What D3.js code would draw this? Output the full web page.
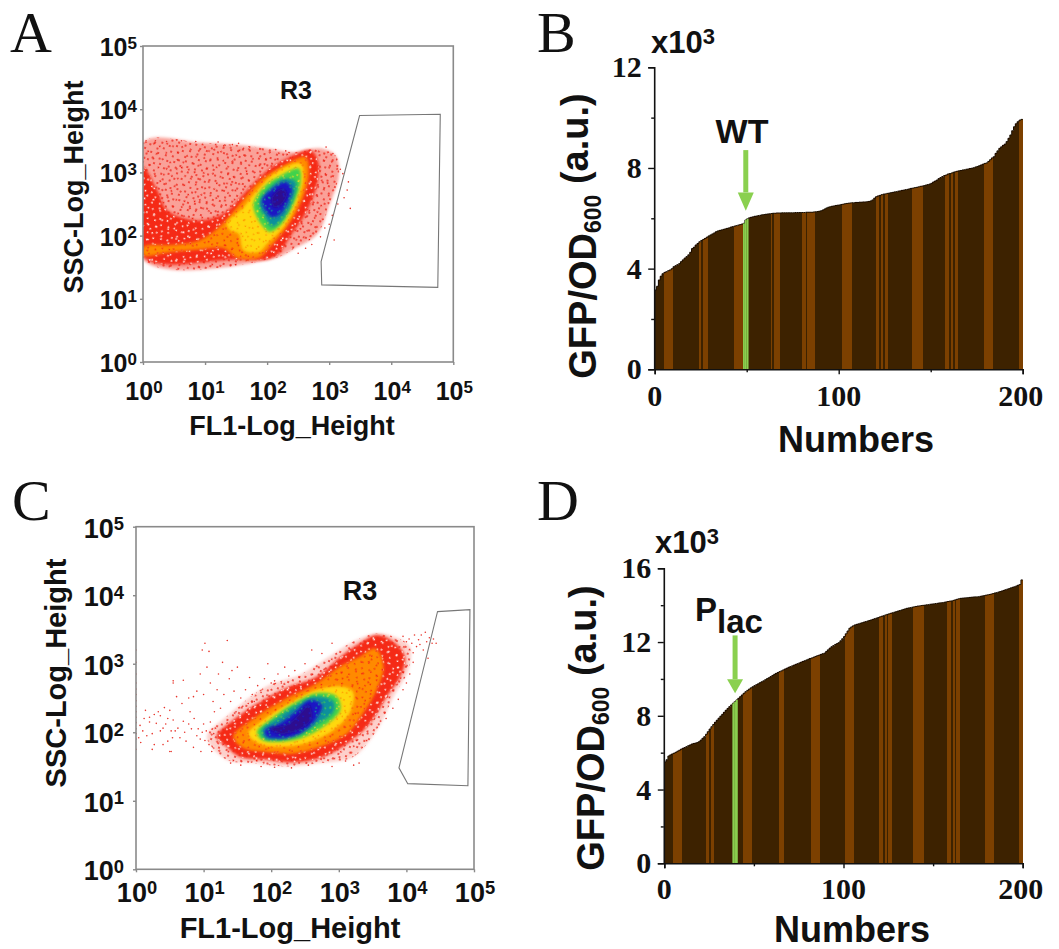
<!DOCTYPE html>
<html>
<head>
<meta charset="utf-8">
<title>Flow cytometry and GFP screening</title>
<script src="https://cdn.jsdelivr.net/npm/d3@7"></script>
<style>
  html, body { margin: 0; background: #fff; }
  svg { display: block; }
  text { fill: #111; }
  .sans { font-family: "Liberation Sans", Arial, sans-serif; font-weight: bold; }
  .serif { font-family: "Liberation Serif", "Times New Roman", serif; }
</style>
</head>
<body>
<svg id="fig" width="1059" height="949"></svg>
<script>
// all flow cytometry values are log10(signal), estimated by eye off the axes.
// the dense clouds are kept as density outlines (one per colour band), only the
// stray events are single points.
const decades = [0, 1, 2, 3, 4, 5];

const gateA = [[3.49,3.90],[4.79,3.92],[4.75,1.18],[2.88,1.22],[2.87,1.59]];
const sparseA = [[0,3.47],[.92,3.47],[1.57,3.43],[2.0,3.38],[2.43,3.32],[2.86,3.38],[3.10,3.27],[3.16,2.98],[2.99,2.45],[2.81,2.03],[2.43,1.79],[2.11,1.64],[.01,1.61]];
const redA = [[0,3.09],[.23,2.72],[.39,2.40],[.87,2.24],[1.30,2.35],[1.68,2.72],[2.0,3.03],[2.32,3.22],[2.70,3.35],[2.83,3.14],[2.78,2.72],[2.62,2.35],[2.40,2.03],[2.11,1.66],[1.46,1.62],[.01,1.66]];
const orangeA = [[.01,1.82],[.45,1.85],[.9,1.92],[1.19,2.10],[1.57,2.51],[1.89,2.87],[2.27,3.11],[2.62,3.24],[2.67,2.98],[2.56,2.56],[2.32,2.14],[2.05,1.82],[1.87,1.65],[1.52,1.65],[1.3,1.8],[.9,1.78],[.45,1.74],[.01,1.69]];
const yellowA = [[1.35,2.19],[1.62,2.45],[1.84,2.72],[2.16,3.01],[2.54,3.14],[2.59,2.93],[2.48,2.51],[2.27,2.14],[2.0,1.87],[1.87,1.74],[1.62,1.77],[1.54,2.03],[1.41,2.08]];
const greenA = [[1.78,2.51],[1.95,2.77],[2.22,2.95],[2.51,3.06],[2.54,2.85],[2.43,2.51],[2.24,2.19],[2.05,2.06],[1.92,2.16],[1.81,2.35]];
const tealA = [[1.87,2.51],[2.03,2.74],[2.27,2.90],[2.46,2.85],[2.43,2.61],[2.27,2.29],[2.08,2.14],[1.97,2.29]];
const blueA = [[1.92,2.56],[2.08,2.74],[2.30,2.85],[2.40,2.74],[2.35,2.56],[2.22,2.35],[2.08,2.29],[1.97,2.40]];
const indigoA = [[2.08,2.61],[2.24,2.74],[2.32,2.66],[2.22,2.48],[2.11,2.45]];
const strayA = [[3.34,2.43],[3.29,2.72],[3.08,1.93],[3.0,2.18],[3.31,2.85],[3.22,2.98],[3.18,3.05],[3.12,3.2],[3.06,3.3],[2.95,3.4],[3.24,2.6],[3.14,2.5],[3.05,2.32],[2.93,2.12],[2.86,1.98],[2.72,1.86],[2.62,1.8],[2.5,1.72],
  [1.54,3.46],[1.44,3.44],[1.21,3.48],[.85,3.49],[.62,3.5],[1.72,3.4],[1.88,3.37],[2.14,3.36],[2.3,3.34],[.2,3.5],[.38,3.49],[.05,3.5],[1.62,3.38],[1.3,3.42]];

const gateC = [[4.46,3.76],[4.94,3.79],[4.91,1.22],[4.02,1.25],[3.89,1.48]];
const sparseC = [[1.05,1.94],[1.34,2.23],[1.93,2.67],[2.43,2.84],[2.82,3.08],[3.21,3.32],[3.56,3.44],[3.83,3.39],[4.05,3.25],[4.03,2.91],[3.81,2.52],[3.56,2.03],[3.21,1.64],[2.72,1.55],[2.23,1.50],[1.74,1.55],[1.34,1.60]];
const redC = [[1.19,1.94],[1.44,2.18],[1.88,2.47],[2.28,2.67],[2.67,2.81],[3.02,3.10],[3.31,3.30],[3.56,3.42],[3.81,3.32],[3.98,3.10],[3.91,2.81],[3.71,2.52],[3.46,2.13],[3.21,1.89],[2.77,1.64],[2.33,1.56],[1.93,1.60],[1.54,1.64],[1.34,1.79]];
const orangeC = [[1.44,1.94],[1.74,2.20],[2.18,2.47],[2.67,2.71],[3.02,2.96],[3.31,3.10],[3.54,3.22],[3.66,2.96],[3.56,2.62],[3.36,2.28],[3.12,1.98],[2.72,1.79],[2.33,1.69],[1.88,1.72],[1.59,1.77]];
const yellowC = [[1.66,1.98],[1.88,2.18],[2.23,2.40],[2.67,2.62],[3.02,2.67],[3.21,2.59],[3.17,2.30],[2.92,2.03],[2.52,1.84],[2.13,1.79],[1.83,1.83]];
const greenC = [[1.79,2.01],[1.98,2.18],[2.33,2.42],[2.67,2.57],[2.97,2.52],[3.02,2.32],[2.77,2.08],[2.43,1.91],[2.08,1.86],[1.86,1.89]];
const tealC = [[1.86,2.03],[2.08,2.20],[2.38,2.40],[2.65,2.52],[2.92,2.45],[2.92,2.30],[2.70,2.13],[2.38,1.96],[2.08,1.89],[1.91,1.91]];
const blueC = [[1.91,2.03],[2.13,2.13],[2.38,2.32],[2.57,2.47],[2.75,2.40],[2.67,2.20],[2.43,1.98],[2.13,1.91],[1.93,1.94]];
const indigoC = [[1.98,2.06],[2.23,2.11],[2.43,2.28],[2.55,2.40],[2.60,2.20],[2.40,2.03],[2.13,1.98]];
const strayC = [
  // left edge pile-up
  [0,1.75],[0,1.9],[0,1.98],[0,2.05],[0,2.14],[0,2.22],[0,2.3],[0,2.38],[0,2.46],[0,2.55],[0,2.63],[0,2.72],[0,2.85],[0,3.02],[0,3.2],
  // left low scatter
  [.04,1.92],[.06,2.1],[.07,1.85],[.1,2.02],[.12,2.2],[.14,2.32],[.16,1.95],[.2,2.22],[.2,2.15],[.24,1.98],[.27,2.26],[.3,2.13],[.33,2.3],[.36,2.02],[.36,2.24],[.27,1.82],[.24,1.75],[.4,1.82],[.47,1.87],[.5,1.72],[.44,2.12],
  [.4,2.06],[.42,2.36],[.47,2.2],[.52,2.02],[.54,1.92],[.52,1.72],[.5,2.32],[.55,2.18],[.58,2.02],[.6,2.52],[.62,2.06],[.65,1.92],[.68,2.42],[.7,2.16],[.72,2.0],[.74,1.87],[.78,2.12],[.8,2.3],[.82,2.05],[.85,1.78],[.86,2.2],[.9,1.95],[.92,2.05],[.95,1.9],[.96,1.72],[.98,2.0],[1.0,2.12],[1.02,1.88],[1.04,2.02],[1.08,1.82],[1.1,2.15],[1.12,1.72],[1.15,1.98],[1.16,2.3],
  // upper scatter
  [.55,2.75],[.55,2.72],[.7,2.76],[.78,2.5],[.85,2.52],[.9,2.6],[.95,2.85],[1.0,2.55],[1.02,3.3],[.98,3.2],[1.08,3.18],[1.05,2.95],[1.1,2.72],[1.14,2.45],[1.2,2.62],[1.22,2.85],[1.25,2.35],[1.28,3.02],[1.3,2.55],[1.35,3.34],[1.38,2.78],[1.4,2.45],[1.42,2.9],[1.45,2.6],[1.48,2.3],[1.5,2.95],[1.55,2.5],[1.58,2.38],[1.62,2.62],[1.66,2.42],[1.68,2.8],[1.72,2.55],[1.75,2.45],[1.8,2.68],[1.85,2.58],[1.9,2.78],[1.95,3.0],[2.0,2.72],[2.05,2.75],[2.1,2.85],[2.15,2.72],[2.2,2.95],[2.26,2.82],[2.35,2.9],[2.5,3.0],[2.6,3.2],[2.75,3.15],[2.9,3.3],
  // right fringe
  [3.95,3.4],[4.0,3.32],[4.04,3.36],[4.08,3.3],[4.1,3.16],[4.12,3.42],[4.15,3.25],[4.18,3.35],[4.2,3.28],[4.22,3.42],[4.25,3.2],[4.28,3.46],[4.3,3.32],[4.34,3.38],[4.38,3.3],[4.32,3.08],[4.4,3.36],[4.44,3.3],[4.1,3.02],[4.05,2.85],[4.0,2.72],[3.95,2.62],[3.88,2.48],[3.8,2.35],[3.7,2.2],
  // lower fringe
  [3.3,1.55],[3.22,1.52],[3.1,1.58],[2.9,1.5],[2.55,1.52],[2.3,1.48],[2.05,1.49],[1.85,1.5],[1.55,1.52],[1.4,1.55]
];

// bars, x1000 a.u., one value per clone in rank order
const valuesB = [
  3.15,3.30,3.55,3.70,3.80,3.85,3.88,3.92,3.95,4.00,
  4.08,4.12,4.16,4.20,4.28,4.35,4.42,4.48,4.55,4.65,
  4.80,4.85,4.94,5.00,5.07,5.12,5.16,5.20,5.25,5.30,
  5.34,5.38,5.42,5.47,5.50,5.52,5.54,5.56,5.58,5.60,
  5.62,5.65,5.67,5.69,5.71,5.73,5.75,5.77,5.80,5.93,
  5.98,6.02,6.04,6.06,6.08,6.09,6.11,6.12,6.14,6.15,
  6.16,6.17,6.18,6.19,6.20,6.20,6.21,6.21,6.21,6.22,
  6.22,6.22,6.22,6.22,6.22,6.22,6.23,6.23,6.23,6.23,
  6.23,6.23,6.24,6.24,6.24,6.24,6.25,6.26,6.27,6.28,
  6.30,6.33,6.37,6.41,6.44,6.46,6.48,6.49,6.51,6.52,
  6.53,6.55,6.56,6.58,6.59,6.60,6.61,6.62,6.62,6.63,
  6.63,6.64,6.64,6.65,6.65,6.66,6.67,6.69,6.73,6.80,
  6.86,6.89,6.91,6.94,6.96,6.97,6.99,7.00,7.02,7.03,
  7.05,7.06,7.08,7.09,7.11,7.12,7.14,7.15,7.17,7.19,
  7.20,7.22,7.23,7.25,7.27,7.28,7.30,7.32,7.34,7.36,
  7.39,7.44,7.48,7.52,7.58,7.62,7.66,7.70,7.72,7.76,
  7.78,7.80,7.83,7.85,7.87,7.89,7.90,7.92,7.93,7.95,
  7.96,7.98,7.99,8.01,8.04,8.06,8.09,8.12,8.15,8.18,
  8.20,8.26,8.33,8.40,8.45,8.58,8.68,8.78,8.84,8.90,
  8.95,9.05,9.18,9.31,9.48,9.64,9.76,9.84,9.90,9.93
];
const valuesD = [
  5.50,5.62,5.82,5.88,5.93,5.97,6.02,6.08,6.13,6.19,
  6.24,6.28,6.33,6.38,6.42,6.47,6.50,6.52,6.55,6.60,
  6.68,6.78,6.87,7.00,7.14,7.28,7.41,7.53,7.65,7.76,
  7.87,7.98,8.08,8.19,8.30,8.40,8.50,8.59,8.68,8.77,
  8.86,8.95,9.04,9.13,9.22,9.31,9.38,9.45,9.52,9.58,
  9.64,9.69,9.74,9.80,9.85,9.90,9.96,10.02,10.07,10.13,
  10.19,10.25,10.30,10.35,10.40,10.44,10.49,10.54,10.58,10.63,
  10.67,10.71,10.75,10.79,10.83,10.87,10.91,10.95,10.99,11.03,
  11.07,11.11,11.14,11.18,11.22,11.26,11.29,11.33,11.37,11.40,
  11.49,11.58,11.67,11.75,11.81,11.87,11.92,11.97,12.07,12.18,
  12.30,12.45,12.60,12.75,12.82,12.88,12.93,12.96,12.99,13.02,
  13.05,13.08,13.11,13.14,13.17,13.20,13.23,13.27,13.30,13.33,
  13.37,13.40,13.43,13.47,13.50,13.53,13.56,13.59,13.62,13.65,
  13.68,13.71,13.74,13.77,13.80,13.83,13.85,13.87,13.89,13.91,
  13.93,13.95,13.96,13.98,13.99,14.00,14.02,14.03,14.05,14.06,
  14.07,14.09,14.10,14.12,14.13,14.14,14.16,14.18,14.20,14.22,
  14.23,14.26,14.29,14.32,14.35,14.37,14.38,14.39,14.40,14.41,
  14.42,14.43,14.44,14.45,14.45,14.46,14.48,14.50,14.52,14.54,
  14.56,14.58,14.60,14.63,14.66,14.68,14.71,14.74,14.77,14.80,
  14.84,14.87,14.90,14.94,14.97,15.00,15.04,15.08,15.12,15.37
];
// lighter bars, as [first, end) ranges of rank
const stripesB = [[5,10],[24,25],[26,29],[43,48],[63,64],[65,68],[80,82],[83,87],[102,107],[120,122],[123,124],[125,127],[140,146],[158,160],[161,162],[163,165],[179,184],[198,200]];
const stripesD = [[5,10],[23,25],[26,28],[44,49],[64,67],[82,87],[101,106],[120,122],[123,124],[125,127],[139,145],[158,160],[161,162],[163,165],[179,184],[198,200]];
const markerB = [48, 49, 50];
const markerD = [38, 39, 40];

const bandColors = ["#f52a12", "#ff8a00", "#ffd80a", "#3fd24c", "#0f8f9c", "#1a18c4", "#2d0c8e"];
const fleckColors = ["#ffffff", "#f52a12", "#ff9a00", "#f2e020", "#3fd24c", "#0f8f9c", "#1a18c4"];
const barDark = "#3e2200";
const barLight = "#7c4102";
const markerGreen = "#8ad04f";
const frameGrey = "#8a8a8a";

const svg = d3.select("#fig");
const defs = svg.append("defs");

defs.append("filter").attr("id", "soft").attr("x", "-10%").attr("y", "-10%").attr("width", "120%").attr("height", "120%")
  .append("feGaussianBlur").attr("stdDeviation", 1.8);
defs.append("filter").attr("id", "tiny").attr("x", "-5%").attr("y", "-5%").attr("width", "110%").attr("height", "110%")
  .append("feGaussianBlur").attr("stdDeviation", 0.45);

// texture for the thick part of the clouds, too many events to list one by one
const speckle = [[2,3],[9,1],[16,4],[23,2],[5,8],[12,7],[20,9],[26,7],[1,13],[8,12],[15,14],[22,13],[4,18],[11,17],[18,19],[25,18],[7,23],[14,22],[21,24],[27,23],[3,26],[17,27],[10,26]];

function addTexture(id, color, size, angle, r) {
  const p = defs.append("pattern").attr("id", id).attr("width", size).attr("height", size)
    .attr("patternUnits", "userSpaceOnUse").attr("patternTransform", `rotate(${angle})`);
  p.selectAll("circle").data(speckle).join("circle")
    .attr("cx", d => d[0] * size / 29).attr("cy", d => d[1] * size / 29).attr("r", r).attr("fill", color);
}
addTexture("sparse1", "#ec1c10", 29, 17, 0.9);
addTexture("sparse2", "#ec1c10", 37, 61, 0.9);
fleckColors.forEach((color, i) => {
  addTexture("fleck" + i + "a", color, 31, 23, 0.85);
  addTexture("fleck" + i + "b", color, 43, 71, 0.85);
});

function superLabel(sel, base, sup, supSize) {
  sel.text(null);
  sel.append("tspan").text(base);
  sel.append("tspan").attr("dy", "-0.42em").style("font-size", supSize + "px").text(sup);
}

function flowPanel(c) {
  const g = svg.append("g");
  const x = d3.scaleLog().domain([1, 1e5]).range([c.left, c.right]);
  const y = d3.scaleLog().domain([1, 1e5]).range([c.bottom, c.top]);
  const path = d3.line().x(d => x(10 ** d[0])).y(d => y(10 ** d[1]));
  const smooth = d3.line().x(d => x(10 ** d[0])).y(d => y(10 ** d[1])).curve(d3.curveCatmullRomClosed.alpha(0.5));

  const clipId = "clip" + c.letter;
  defs.append("clipPath").attr("id", clipId).append("rect")
    .attr("x", c.left).attr("y", c.top).attr("width", c.right - c.left).attr("height", c.bottom - c.top);

  const plot = g.append("g").attr("clip-path", `url(#${clipId})`);
  const cloud = plot.append("g").attr("filter", "url(#tiny)");
  cloud.append("path").attr("d", smooth(c.sparse)).attr("fill", "#f98a7e").attr("fill-opacity", c.haze).attr("filter", "url(#soft)");
  cloud.append("path").attr("d", smooth(c.sparse)).attr("fill", "url(#sparse1)");
  cloud.append("path").attr("d", smooth(c.sparse)).attr("fill", "url(#sparse2)");
  c.bands.forEach((pts, i) => {
    const d = smooth(pts);
    cloud.append("path").attr("d", d).attr("fill", bandColors[i]).attr("filter", "url(#soft)");
    cloud.append("path").attr("d", d).attr("fill", `url(#fleck${i}a)`);
    cloud.append("path").attr("d", d).attr("fill", `url(#fleck${i}b)`);
  });
  plot.selectAll("circle").data(c.stray).join("circle")
    .attr("cx", d => x(10 ** d[0])).attr("cy", d => y(10 ** d[1])).attr("r", 0.8).attr("fill", "#e8352c");

  g.append("path").attr("d", path(c.gate) + "Z").attr("fill", "none").attr("stroke", "#777").attr("stroke-width", 1.1);
  g.append("rect").attr("x", c.left).attr("y", c.top).attr("width", c.right - c.left).attr("height", c.bottom - c.top)
    .attr("fill", "none").attr("stroke", frameGrey).attr("stroke-width", 1.6);

  const ticks = decades.map(d => 10 ** d);
  const xAxis = g.append("g").attr("transform", `translate(0,${c.bottom})`)
    .call(d3.axisBottom(x).tickValues(ticks).tickSize(3).tickFormat(""));
  const yAxis = g.append("g").attr("transform", `translate(${c.left},0)`)
    .call(d3.axisLeft(y).tickValues(ticks).tickSize(3).tickFormat(""));
  [xAxis, yAxis].forEach(a => {
    a.select(".domain").remove();
    a.selectAll("line").attr("stroke", frameGrey).attr("stroke-width", 1.4);
  });

  decades.forEach(d => {
    g.append("text").attr("class", "sans").attr("x", x(10 ** d) + 1).attr("y", c.xTickY)
      .attr("text-anchor", "middle").style("font-size", c.tickSize + "px")
      .call(superLabel, "10", d, c.tickSize * 0.68);
    g.append("text").attr("class", "sans").attr("x", c.left - c.yTickGap).attr("y", y(10 ** d) + c.yTickDy)
      .attr("text-anchor", "end").style("font-size", c.tickSize + "px")
      .call(superLabel, "10", d, c.tickSize * 0.68);
  });

  g.append("text").attr("class", "sans").attr("x", c.xLabel[0]).attr("y", c.xLabel[1])
    .attr("text-anchor", "middle").style("font-size", c.labelSize + "px").text("FL1-Log_Height");
  g.append("text").attr("class", "sans").attr("text-anchor", "middle").style("font-size", c.labelSize + "px")
    .attr("transform", `translate(${c.yLabel[0]},${c.yLabel[1]}) rotate(-90)`).text("SSC-Log_Height");
  g.append("text").attr("class", "sans").attr("x", c.r3[0]).attr("y", c.r3[1])
    .attr("text-anchor", "middle").style("font-size", c.r3Size + "px").text("R3");
  g.append("text").attr("class", "serif").attr("x", c.tag[0]).attr("y", c.tag[1])
    .style("font-size", "58px").text(c.letter);
}

function barPanel(c) {
  const g = svg.append("g");
  const x = d3.scaleLinear().domain([0, 200]).range([c.left, c.right]);
  const y = d3.scaleLinear().domain([0, c.yMax]).range([c.bottom, c.top]);
  const isLight = i => c.stripes.some(s => i >= s[0] && i < s[1]);

  const marks = g.append("g").attr("filter", "url(#tiny)");
  marks.append("g").selectAll("rect").data(c.values).join("rect")
    .attr("shape-rendering", "crispEdges")
    .attr("x", (d, i) => x(i)).attr("width", (d, i) => x(i + 1) - x(i))
    .attr("y", d => y(d)).attr("height", d => y(0) - y(d))
    .attr("fill", (d, i) => isLight(i) ? barLight : barDark);

  const top = d3.line().x((d, i) => x(i)).y(d => y(d)).curve(d3.curveStepAfter);
  marks.append("path").attr("d", top(c.values.concat(c.values[199]))).attr("fill", "none").attr("stroke", "#1c0f00").attr("stroke-width", 1);

  c.marker.forEach(i => {
    marks.append("rect").attr("x", x(i)).attr("width", x(i + 1) - x(i))
      .attr("y", y(c.values[i])).attr("height", y(0) - y(c.values[i])).attr("fill", markerGreen);
  });

  // arrow, sits on the marked clone
  const ax = x(c.marker[1] + 0.5);
  g.append("line").attr("x1", ax).attr("x2", ax).attr("y1", y(c.arrow[0])).attr("y2", y(c.arrow[1]))
    .attr("stroke", markerGreen).attr("stroke-width", 5);
  g.append("path").attr("fill", markerGreen)
    .attr("d", `M${ax - 8},${y(c.arrow[1])}L${ax + 8},${y(c.arrow[1])}L${ax},${y(c.arrow[2])}Z`);

  g.append("g").attr("transform", `translate(0,${c.bottom})`)
    .call(d3.axisBottom(x).tickValues([0, 100, 200]).tickSize(5).tickFormat(""));
  g.append("g").attr("transform", `translate(0,${c.bottom})`)
    .call(d3.axisBottom(x).tickValues([50, 150]).tickSize(3).tickFormat("")).select(".domain").remove();
  g.append("g").attr("transform", `translate(${c.left - 0.5},0)`)
    .call(d3.axisLeft(y).tickValues(c.yTicks).tickSize(6).tickFormat(""));
  g.append("g").attr("transform", `translate(${c.left - 0.5},0)`)
    .call(d3.axisLeft(y).tickValues(c.yMinor).tickSize(3).tickFormat("")).select(".domain").remove();
  g.selectAll(".domain").attr("stroke", "#111").attr("stroke-width", 1.6);
  g.selectAll(".tick line").attr("stroke", "#111").attr("stroke-width", 1.4);

  g.selectAll(".xnum").data([0, 100, 200]).join("text").attr("class", "serif xnum")
    .attr("x", d => x(d) - (d === 200 ? 2 : 0)).attr("y", c.xTickY)
    .attr("text-anchor", "middle").style("font-size", "30px").style("font-weight", "bold").text(d => d);
  g.selectAll(".ynum").data(c.yTicks).join("text").attr("class", "serif ynum")
    .attr("x", c.left - c.yTickGap).attr("y", d => y(d) + 10)
    .attr("text-anchor", "end").style("font-size", "30px").style("font-weight", "bold").text(d => d);

  g.append("text").attr("class", "sans").attr("x", c.xLabel[0]).attr("y", c.xLabel[1])
    .attr("text-anchor", "middle").style("font-size", "36px").text("Numbers");

  const yLab = g.append("text").attr("class", "sans").attr("text-anchor", "middle").style("font-size", "38px")
    .attr("transform", `translate(${c.yLabel[0]},${c.yLabel[1]}) rotate(-90)`);
  yLab.append("tspan").text("GFP/OD");
  yLab.append("tspan").attr("dy", "0.2em").style("font-size", "23px").text("600");
  yLab.append("tspan").attr("dy", "-0.32em").text(" (a.u.)");

  g.append("text").attr("class", "sans").attr("x", c.scaleAt[0]).attr("y", c.scaleAt[1])
    .style("font-size", "31px").call(superLabel, "x10", "3", 22);
  g.append("text").attr("class", "serif").attr("x", c.tag[0]).attr("y", c.tag[1])
    .style("font-size", "58px").text(c.letter);
}

flowPanel({
  letter: "A", tag: [10, 52], left: 143, right: 453.3, top: 46, bottom: 362,
  gate: gateA, sparse: sparseA, stray: strayA, haze: 0.8,
  bands: [redA, orangeA, yellowA, greenA, tealA, blueA, indigoA],
  tickSize: 25, xTickY: 400, yTickGap: 6, yTickDy: 10, labelSize: 27, r3Size: 25,
  xLabel: [292, 435], yLabel: [83, 187], r3: [296, 99]
});
flowPanel({
  letter: "C", tag: [12, 520], left: 136, right: 474, top: 526.7, bottom: 869.3,
  gate: gateC, sparse: sparseC, stray: strayC, haze: 0.4,
  bands: [redC, orangeC, yellowC, greenC, tealC, blueC, indigoC],
  tickSize: 27, xTickY: 902, yTickGap: 12, yTickDy: 11, labelSize: 29, r3Size: 27,
  xLabel: [290, 938], yLabel: [66, 673], r3: [360, 600]
});
barPanel({
  letter: "B", tag: [537, 52], left: 654.7, right: 1022.7, top: 67.3, bottom: 369.3,
  values: valuesB, stripes: stripesB, marker: markerB, yMax: 12, yTicks: [0, 4, 8, 12], yMinor: [2, 6, 10],
  arrow: [8.71, 7.03, 6.3], xTickY: 406, yTickGap: 13, xLabel: [856, 452], yLabel: [596, 236], scaleAt: [651, 53]
});
barPanel({
  letter: "D", tag: [537, 520], left: 664.3, right: 1022.7, top: 568.3, bottom: 863.3,
  values: valuesD, stripes: stripesD, marker: markerD, yMax: 16, yTicks: [0, 4, 8, 12, 16], yMinor: [2, 6, 10, 14],
  arrow: [12.36, 9.98, 9.22], xTickY: 899, yTickGap: 13, xLabel: [852, 942], yLabel: [604, 728], scaleAt: [655, 553]
});

// P lac marker label and WT label sit by the arrows
svg.append("text").attr("class", "sans").attr("x", 742).attr("y", 143).attr("text-anchor", "middle")
  .style("font-size", "34px").text("WT");
const plac = svg.append("text").attr("class", "sans").attr("x", 695).attr("y", 621).style("font-size", "33px");
plac.append("tspan").text("P");
plac.append("tspan").attr("dy", 12).text("lac");
</script>
</body>
</html>
